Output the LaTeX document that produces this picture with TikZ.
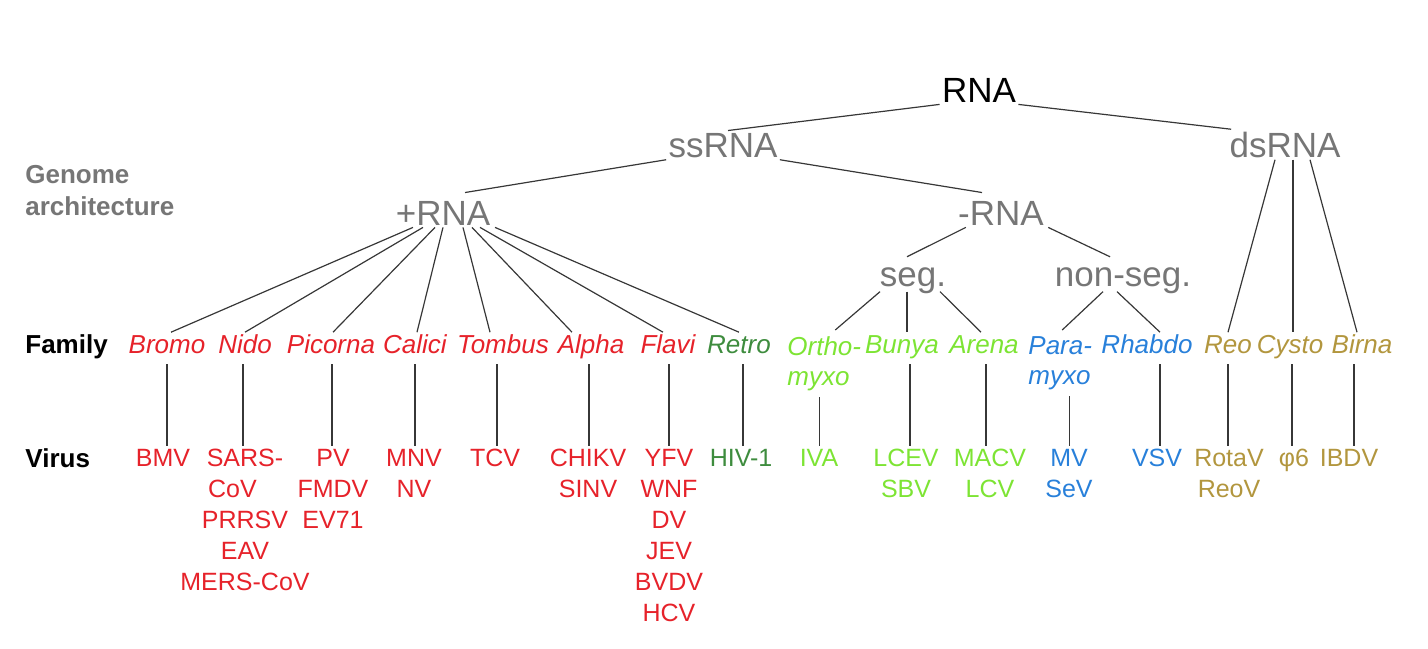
\documentclass[tikz,border=0pt]{standalone}
\usepackage{fontspec}
\setmainfont{Liberation Sans}
\definecolor{labelgray}{RGB}{118,118,118}
\definecolor{linegray}{RGB}{55,55,55}
\definecolor{plusred}{RGB}{230,34,42}
\definecolor{retrogreen}{RGB}{62,140,62}
\definecolor{minusgreen}{RGB}{125,228,52}
\definecolor{paramblue}{RGB}{40,128,218}
\definecolor{dsgold}{RGB}{178,150,62}
\tikzset{
  big/.style={font=\fontsize{17.5}{21}\selectfont, text=labelgray, inner sep=1pt, anchor=base},
  root/.style={big, text=black},
  side/.style={font=\fontsize{13}{16}\selectfont\bfseries, align=left, inner sep=0pt, anchor=base west},
  fam/.style={font=\fontsize{13}{15}\selectfont\itshape, inner xsep=0pt, inner ysep=3pt},
  famone/.style={fam, text height=0.72em, text depth=0.24em, anchor=base},
  famtwo/.style={fam, align=left, anchor=north west},
  vir/.style={font=\fontsize{12.5}{15.5}\selectfont, align=center, inner sep=0pt, anchor=north},
  link/.style={draw=linegray, line width=0.6pt}
}
\begin{document}
\begin{tikzpicture}[x=0.5pt, y=-0.5pt]
  \useasboundingbox (0,0) rectangle (1428,648);
  % row labels
  \node[side, text=labelgray] (genome) at (25,215) {Genome\\architecture};
  \node[side] (familylbl) at (25,353) {Family};
  \node[side] (viruslbl) at (25,467) {Virus};
  % genome architecture tree
  \node[root] (rna) at (979,102) {RNA};
  \node[big] (ss) at (723,157) {ssRNA};
  \node[big] (ds) at (1285,157) {dsRNA};
  \node[big] (plus) at (443,225) {+RNA};
  \node[big] (minus) at (1001,225) {-RNA};
  \node[big] (seg) at (913,286) {seg.};
  \node[big] (nonseg) at (1123,286) {non-seg.};
  % families
  \node[famone, text=plusred] (bromo) at (167,353) {Bromo};
  \node[famone, text=plusred] (nido) at (245,353) {Nido};
  \node[famone, text=plusred] (picorna) at (331,353) {Picorna};
  \node[famone, text=plusred] (calici) at (415,353) {Calici};
  \node[famone, text=plusred] (tombus) at (503,353) {Tombus};
  \node[famone, text=plusred] (alpha) at (591,353) {Alpha};
  \node[famone, text=plusred] (flavi) at (668,353) {Flavi};
  \node[famone, text=retrogreen] (retro) at (739,353) {Retro};
  \node[famtwo, text=minusgreen] (ortho) at (787,330) {Ortho-\\myxo};
  \node[famone, text=minusgreen] (bunya) at (902,353) {Bunya};
  \node[famone, text=minusgreen] (arena) at (984,353) {Arena};
  \node[famtwo, text=paramblue] (para) at (1028,330) {Para-\\myxo};
  \node[famone, text=paramblue] (rhabdo) at (1147,353) {Rhabdo};
  \node[famone, text=dsgold] (reo) at (1228,353) {Reo};
  \node[famone, text=dsgold] (cysto) at (1290,353) {Cysto};
  \node[famone, text=dsgold] (birna) at (1362,353) {Birna};
  % viruses
  \node[vir, text=plusred] (bmv) at (163,449) {BMV};
  \node[vir, text=plusred] (sars) at (245,449) {SARS-\\CoV\hphantom{S-}\\PRRSV\\EAV\\MERS-CoV};
  \node[vir, text=plusred] (pv) at (333,449) {PV\\FMDV\\EV71};
  \node[vir, text=plusred] (mnv) at (414,449) {MNV\\NV};
  \node[vir, text=plusred] (tcv) at (495,449) {TCV};
  \node[vir, text=plusred] (chikv) at (588,449) {CHIKV\\SINV};
  \node[vir, text=plusred] (yfv) at (669,449) {YFV\\WNF\\DV\\JEV\\BVDV\\HCV};
  \node[vir, text=retrogreen] (hiv) at (741,449) {HIV-1};
  \node[vir, text=minusgreen] (iva) at (819,449) {IVA};
  \node[vir, text=minusgreen] (lcev) at (906,449) {LCEV\\SBV};
  \node[vir, text=minusgreen] (macv) at (990,449) {MACV\\LCV};
  \node[vir, text=paramblue] (mv) at (1069,449) {MV\\SeV};
  \node[vir, text=paramblue] (vsv) at (1157,449) {VSV};
  \node[vir, text=dsgold] (rotav) at (1229,449) {RotaV\\ReoV};
  \node[vir, text=dsgold] (phi) at (1294,449) {φ6};
  \node[vir, text=dsgold] (ibdv) at (1349,449) {IBDV};
  % tree links
  \draw[link] (rna.south west) -- ([xshift=2.5pt]ss.north);
  \draw[link] (rna.south east) -- ([xshift=2pt]ds.north west);
  \draw[link] (ss.south west) -- ([xshift=11pt,yshift=3pt]plus.north);
  \draw[link] (ss.south east) -- ([xshift=-9.5pt,yshift=3pt]minus.north);
  \draw[link] ([xshift=5pt]minus.south west) -- ([xshift=-3pt,yshift=4pt]seg.north);
  \draw[link] ([xshift=1pt]minus.south east) -- ([xshift=-6.5pt,yshift=4pt]nonseg.north);
  \foreach \f/\a/\b in {bromo/-30/4, nido/-20/0, picorna/-8/2, calici/0/2, tombus/20/-13,
      alpha/29/-19, flavi/37/-5, retro/52/0}
    \draw[link] ([xshift=\a*0.5pt]plus.south) -- ([xshift=\b*0.5pt]\f.north);
  \foreach \f/\a/\b in {ortho/-33/11, bunya/-6/5, arena/27/-3}
    \draw[link] ([xshift=\a*0.5pt,yshift=2pt]seg.south) -- ([xshift=\b*0.5pt]\f.north);
  \foreach \f/\a/\b in {para/-20/2, rhabdo/-6/13}
    \draw[link] ([xshift=\a*0.5pt,yshift=2pt]nonseg.south) -- ([xshift=\b*0.5pt]\f.north);
  \foreach \f/\a/\b in {reo/-10/0, cysto/8/3, birna/25/-5}
    \draw[link] ([xshift=\a*0.5pt]ds.south) -- ([xshift=\b*0.5pt]\f.north);
  % family to virus
  \foreach \f/\v/\dx in {bromo/bmv/0, nido/sars/-2, picorna/pv/1, calici/mnv/0, tombus/tcv/-6,
      alpha/chikv/-2, flavi/yfv/1, retro/hiv/4, ortho/iva/-5, bunya/lcev/8, arena/macv/2,
      para/mv/9, rhabdo/vsv/13, reo/rotav/0, cysto/phi/2, birna/ibdv/-8}
    \draw[link, shorten >=1.5pt] ([xshift=\dx*0.5pt]\f.south) -- ([xshift=\dx*0.5pt]\f.south |- \v.north);
\end{tikzpicture}
\end{document}
